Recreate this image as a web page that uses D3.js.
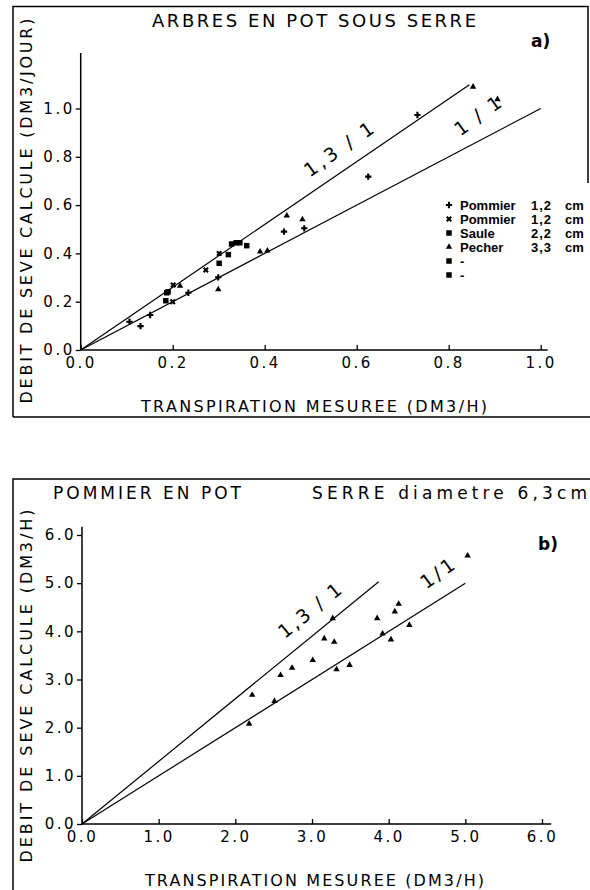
<!DOCTYPE html>
<html>
<head>
<meta charset="utf-8">
<script src="https://cdn.jsdelivr.net/npm/d3@7"></script>
<style>
	body { margin: 0; background: #fff; }
	svg { display: block; }
	text { font-family: "DejaVu Sans", sans-serif; fill: #000; }
	.tick text { font-size: 15px; letter-spacing: 2.5px; }
	.tick line { stroke: #000; stroke-width: 1.3; }
	.axisline, .frame { stroke: #000; stroke-width: 1.5; fill: none; }
	.ref { stroke: #000; stroke-width: 1.2; fill: none; }
	.legend text { font-family: "Liberation Sans", sans-serif; font-weight: bold; font-size: 13px; }
</style>
</head>
<body>
<svg width="590" height="890"></svg>
<script>

	// a) arbres en pot sous serre  [transpiration, debit calcule]
	var pommierPlusA = [[0.106, 0.117], [0.130, 0.099], [0.151, 0.145], [0.234, 0.237], [0.299, 0.301],
		[0.442, 0.490], [0.486, 0.504], [0.625, 0.718], [0.732, 0.973]];
	var pommierTimesA = [[0.200, 0.200], [0.201, 0.269], [0.272, 0.331], [0.301, 0.400]];
	var sauleA = [[0.185, 0.204], [0.187, 0.237], [0.190, 0.241], [0.301, 0.359], [0.321, 0.395],
		[0.328, 0.439], [0.338, 0.444], [0.346, 0.444], [0.361, 0.432]];
	var pecherA = [[0.216, 0.265], [0.299, 0.251], [0.390, 0.407], [0.406, 0.411], [0.448, 0.556],
		[0.482, 0.541], [0.853, 1.090], [0.906, 1.038]];

	// b) pommier en pot, diametre 6,3 cm
	var pommierB = [[2.18, 2.08], [2.22, 2.68], [2.51, 2.55], [2.59, 3.09], [2.74, 3.24], [3.01, 3.40],
		[3.16, 3.85], [3.29, 3.78], [3.27, 4.27], [3.32, 3.21], [3.49, 3.30], [3.85, 4.27],
		[3.92, 3.95], [4.03, 3.83], [4.08, 4.41], [4.13, 4.57], [4.27, 4.13], [5.03, 5.57]];

	var ticksA = [0, 0.2, 0.4, 0.6, 0.8, 1.0];
	var ticksB = [0, 1, 2, 3, 4, 5, 6];

	// reference lines: ratio, end of line on x
	var refA = [[1.3, 0.845], [1.0, 1.0]];
	var refB = [[1.3, 3.87], [1.0, 5.0]];

	var legendNames = ["Pommier", "Pommier", "Saule", "Pecher", "-", "-"];
	var legendSizes = ["1,2", "1,2", "2,2", "3,3", "", ""];
	var legendUnits = ["cm", "cm", "cm", "cm", "", ""];
	var legendMarks = ["plus", "times", "square", "triangle", "square", "square"];

	var svg = d3.select("svg");

	var xA = d3.scaleLinear().domain([0, 1]).range([80.7, 540.7]);
	var yA = d3.scaleLinear().domain([0, 1]).range([350, 108.5]);
	var xB = d3.scaleLinear().domain([0, 6]).range([82, 542]);
	var yB = d3.scaleLinear().domain([0, 6]).range([824, 535]);

	function marker(type) {
		if (type == "plus") return d3.symbol().type(d3.symbolCross).size(22)();
		if (type == "times") return d3.symbol().type(d3.symbolCross).size(22)();
		if (type == "square") return d3.symbol().type(d3.symbolSquare).size(30)();
		return d3.symbol().type(d3.symbolTriangle).size(18)();
	}

	function drawPoints(data, x, y, type) {
		svg.append("g").selectAll("path")
			.data(data)
			.enter()
			.append("path")
			.attr("d", marker(type))
			.attr("fill", "#000")
			.attr("transform", d => "translate(" + x(d[0]) + "," + y(d[1]) + ")" + (type == "times" ? " rotate(45)" : ""));
	}

	function drawAxes(x, y, ticks, xEnd, yEnd, pad) {
		var gx = svg.append("g")
			.attr("transform", "translate(0," + y(0) + ")")
			.call(d3.axisBottom(x).tickValues(ticks).tickFormat(d3.format(".1f"))
				.tickSizeInner(-5).tickSizeOuter(0).tickPadding(pad));
		gx.select(".domain").remove();
		var gy = svg.append("g")
			.attr("transform", "translate(" + x(0) + ",0)")
			.call(d3.axisLeft(y).tickValues(ticks).tickFormat(d3.format(".1f"))
				.tickSizeInner(5).tickSizeOuter(0).tickPadding(1));
		gy.select(".domain").remove();
		svg.append("line").attr("class", "axisline")
			.attr("x1", x(0)).attr("x2", x(xEnd)).attr("y1", y(0)).attr("y2", y(0));
		svg.append("line").attr("class", "axisline")
			.attr("x1", x(0)).attr("x2", x(0)).attr("y1", y(0)).attr("y2", y(yEnd));
	}

	function drawRefs(refs, x, y) {
		svg.append("g").selectAll("line")
			.data(refs)
			.enter()
			.append("line")
			.attr("class", "ref")
			.attr("x1", x(0)).attr("y1", y(0))
			.attr("x2", d => x(d[1]))
			.attr("y2", d => y(d[0] * d[1]));
	}

	// label along a reference line: text, ratio, x on line, lift, angle, length
	function refLabel(txt, ratio, at, lift, angle, len, x, y) {
		svg.append("text")
			.attr("transform", "translate(" + x(at) + "," + (y(ratio * at) - lift) + ") rotate(" + (-angle) + ")")
			.attr("font-size", 19)
			.attr("textLength", len)
			.attr("lengthAdjust", "spacing")
			.text(txt);
	}

	function label(txt, x, y, size, len, rot, anchor, weight) {
		var t = svg.append("text")
			.attr("font-size", size)
			.attr("text-anchor", anchor || "start")
			.text(txt);
		if (weight) t.attr("font-weight", weight);
		if (len) t.attr("textLength", len).attr("lengthAdjust", "spacing");
		if (rot) t.attr("transform", "translate(" + x + "," + y + ") rotate(" + rot + ")");
		else t.attr("x", x).attr("y", y);
	}

	// frames
	svg.append("path").attr("class", "frame")
		.attr("d", "M13,417V6.5H588V183M13,417H590");
	svg.append("path").attr("class", "frame")
		.attr("d", "M13,890V479H590");

	// ---- panel a
	drawAxes(xA, yA, ticksA, 1.015, 1.23, 7);
	drawRefs(refA, xA, yA);
	drawPoints(pommierPlusA, xA, yA, "plus");
	drawPoints(pommierTimesA, xA, yA, "times");
	drawPoints(sauleA, xA, yA, "square");
	drawPoints(pecherA, xA, yA, "triangle");
	refLabel("1,3 / 1", 1.3, 0.498, 16, 35, 80, xA, yA);
	refLabel("1 / 1", 1.0, 0.825, 14, 36, 53, xA, yA);

	label("ARBRES EN POT SOUS SERRE", 152, 27, 18, 324);
	label("a)", 531, 47, 17, null, null, "start", "bold");
	label("DEBIT DE SEVE CALCULE  (DM3/JOUR)", 32, 211, 16, 385, -90, "middle");
	label("TRANSPIRATION MESUREE  (DM3/H)", 141, 412, 16, 346);

	var leg = svg.append("g").attr("class", "legend");
	var rows = leg.selectAll("g")
		.data(legendNames)
		.enter()
		.append("g")
		.attr("transform", (d, i) => "translate(449," + (205 + i * 14) + ")");
	rows.append("path")
		.attr("d", (d, i) => marker(legendMarks[i]))
		.attr("transform", (d, i) => legendMarks[i] == "times" ? "rotate(45)" : null)
		.attr("fill", "#000");
	rows.append("text").attr("x", 11).attr("y", 5).text(d => d);
	rows.append("text").attr("x", 103).attr("y", 5).attr("text-anchor", "end")
		.attr("letter-spacing", 1).text((d, i) => legendSizes[i]);
	rows.append("text").attr("x", 116).attr("y", 5).text((d, i) => legendUnits[i]);

	// ---- panel b
	drawAxes(xB, yB, ticksB, 6.12, 6.17, 7);
	drawRefs(refB, xB, yB);
	drawPoints(pommierB, xB, yB, "triangle");
	refLabel("1,3 / 1", 1.3, 2.646, 19, 39, 75, xB, yB);
	refLabel("1/1", 1.0, 4.49, 18, 36, 37, xB, yB);

	label("POMMIER EN POT", 53, 499, 17, 188);
	label("SERRE diametre 6,3cm", 312, 499, 17, 275);
	label("b)", 538, 550, 17, null, null, "start", "bold");
	label("DEBIT DE SEVE CALCULE  (DM3/H)", 32, 686, 16, 353, -90, "middle");
	label("TRANSPIRATION MESUREE  (DM3/H)", 145, 886, 16, 339);

</script>
</body>
</html>
